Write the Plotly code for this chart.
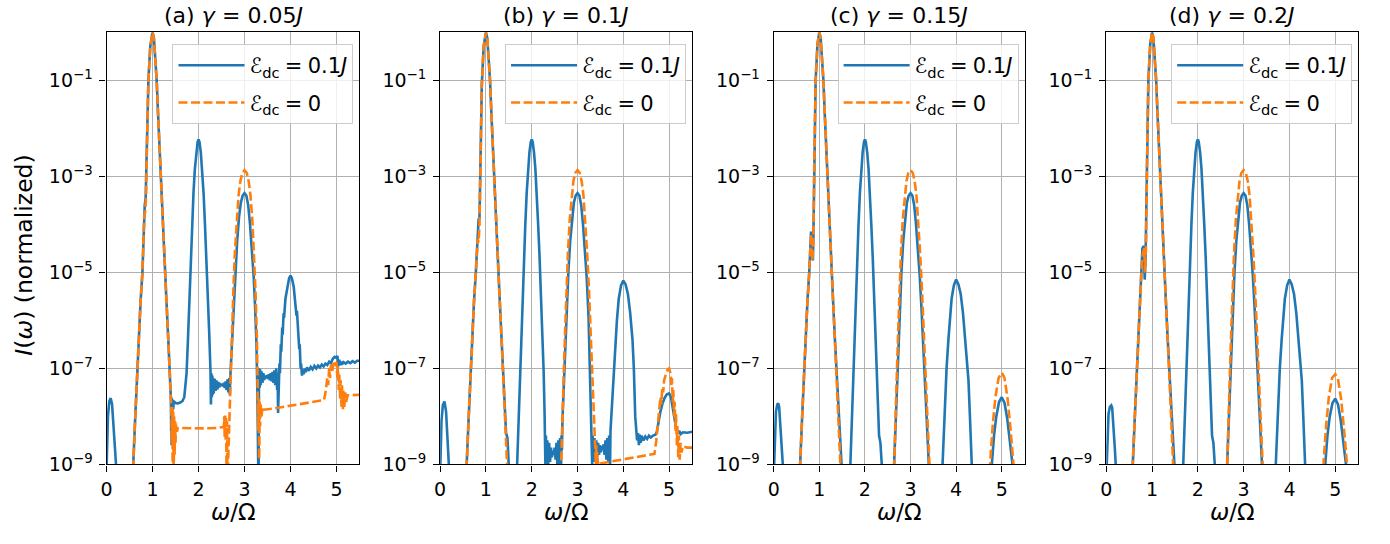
import plotly.graph_objects as go

# ---------------- data (x = omega/Omega, values = log10 of normalized I(omega)) ----------------
A_BLUE_X = [0.00, 0.03, 0.06, 0.09, 0.12, 0.16, 0.20, 0.24, 0.30, 0.50,
            0.56, 0.58, 0.62, 0.66, 0.70, 0.74, 0.78, 0.81, 0.83, 0.85, 0.88, 0.91, 0.95, 1.00,
            1.03, 1.06, 1.09, 1.12, 1.15, 1.18, 1.22, 1.26, 1.30, 1.34, 1.38, 1.40,
            1.405, 1.41, 1.415, 1.42, 1.425, 1.43, 1.435, 1.44, 1.45, 1.46,
            1.50, 1.55, 1.60, 1.65, 1.69, 1.71, 1.74, 1.77, 1.80, 1.83, 1.86, 1.89, 1.92, 1.95, 1.98, 2.00,
            2.02, 2.05, 2.08, 2.11, 2.14, 2.17, 2.20, 2.23, 2.26, 2.27,
            2.28, 2.29, 2.30, 2.31, 2.32, 2.33, 2.35, 2.37, 2.39, 2.41, 2.43, 2.45, 2.47, 2.49, 2.51,
            2.53, 2.55, 2.57, 2.59, 2.61, 2.63, 2.65, 2.67, 2.68, 2.69, 2.70,
            2.73, 2.76, 2.80, 2.84, 2.88, 2.92, 2.96, 3.00, 3.04, 3.08, 3.12, 3.16, 3.20, 3.23, 3.26, 3.28,
            3.29, 3.305, 3.315,
            3.32, 3.33, 3.34, 3.35, 3.37, 3.39, 3.41, 3.43, 3.45, 3.47, 3.49, 3.51, 3.53, 3.55, 3.57,
            3.59, 3.61, 3.63, 3.65, 3.67, 3.69, 3.71, 3.72, 3.73, 3.745,
            3.76, 3.77, 3.79, 3.80, 3.82, 3.83, 3.85, 3.86, 3.89, 3.93, 3.97, 4.00, 4.03, 4.07, 4.10,
            4.13, 4.14, 4.16, 4.17, 4.19, 4.20, 4.22, 4.23, 4.25,
            4.27, 4.29, 4.31, 4.33, 4.36, 4.40, 4.44, 4.48, 4.52, 4.56, 4.60, 4.64, 4.68, 4.72, 4.76,
            4.80, 4.84, 4.88, 4.92, 4.96, 5.00, 5.02, 5.04, 5.06, 5.08, 5.10, 5.12, 5.15, 5.20, 5.25,
            5.30, 5.35, 5.40, 5.45, 5.50]
A_BLUE_LOG10 = [-9.1, -8.0, -7.68, -7.62, -7.75, -8.3, -8.9, -9.5, -11.0, -11.0,
                -9.3, -9.0, -8.1, -7.2, -6.3, -5.6, -5.0, -3.9, -3.6, -3.45, -2.2, -1.0, -0.3, 0.0,
                -0.12, -0.5, -1.0, -1.7, -2.4, -3.1, -4.0, -4.8, -5.55, -6.35, -7.2, -7.65,
                -8.3, -7.6, -8.6, -7.7, -8.4, -7.65, -8.1, -7.7, -7.85, -7.68,
                -7.72, -7.73, -7.71, -7.68, -7.6, -7.4, -7.1, -6.4, -5.55, -4.75, -4.0, -3.35, -2.85, -2.5, -2.28, -2.23,
                -2.28, -2.5, -2.85, -3.35, -4.0, -4.65, -5.4, -6.2, -7.05, -7.75,
                -7.1, -7.6, -7.15, -7.55, -7.2, -7.52, -7.22, -7.47, -7.25, -7.44, -7.28, -7.4, -7.31, -7.36, -7.33,
                -7.37, -7.3, -7.41, -7.27, -7.45, -7.23, -7.5, -7.2, -7.55, -7.2, -7.0,
                -6.5, -5.75, -5.0, -4.35, -3.85, -3.55, -3.4, -3.35, -3.4, -3.6, -4.0, -4.5, -5.1, -5.7, -6.5, -7.5,
                -9.6, -9.6, -7.3,
                -7.0, -7.4, -7.02, -7.35, -7.06, -7.3, -7.1, -7.24, -7.15, -7.2, -7.14, -7.22, -7.12, -7.25, -7.1,
                -7.27, -7.07, -7.3, -7.04, -7.35, -7.0, -7.45, -7.1, -7.93, -7.3,
                -6.9, -7.1, -6.5, -6.65, -6.15, -6.3, -5.85, -5.95, -5.55, -5.3, -5.12, -5.07, -5.12, -5.3, -5.55,
                -5.9, -5.8, -6.25, -6.15, -6.6, -6.5, -7.0, -6.9, -7.15,
                -7.02, -7.12, -7.0, -7.08, -6.98, -7.05, -6.97, -7.02, -6.95, -7.0, -6.94, -6.98, -6.92, -6.96, -6.9,
                -6.93, -6.86, -6.89, -6.8, -6.76, -6.78, -6.74, -6.95, -6.82, -6.93, -6.86, -6.92, -6.87, -6.9, -6.86,
                -6.89, -6.85, -6.88, -6.84, -6.84]

A_ORANGE_X = [0.00, 0.50, 0.56, 0.58, 0.62, 0.66, 0.70, 0.74, 0.78, 0.81, 0.82, 0.84, 0.86, 0.88, 0.91, 0.95, 1.00,
              1.03, 1.06, 1.09, 1.12, 1.15, 1.18, 1.22, 1.26, 1.30, 1.34, 1.38, 1.41,
              1.42, 1.43, 1.44, 1.45, 1.46, 1.47, 1.48, 1.49, 1.50, 1.51, 1.53, 1.55,
              1.80, 2.10, 2.40, 2.55, 2.56, 2.57, 2.58, 2.59, 2.60, 2.61, 2.62, 2.63, 2.645,
              2.67, 2.70, 2.73, 2.76, 2.79, 2.83, 2.87, 2.91, 2.95, 3.00, 3.05, 3.09, 3.13, 3.17, 3.21, 3.24, 3.27, 3.29,
              3.30, 3.31, 3.32, 3.33, 3.34, 3.35, 3.37, 3.39, 3.42,
              3.60, 4.00, 4.40, 4.73, 4.77, 4.80, 4.82, 4.84, 4.86, 4.88, 4.91, 4.94, 4.97, 5.00,
              5.02, 5.03, 5.05, 5.06, 5.08, 5.09, 5.11, 5.12, 5.14, 5.15, 5.17, 5.19, 5.21, 5.24,
              5.30, 5.40, 5.50]
A_ORANGE_LOG10 = [-12.0, -12.0, -9.3, -9.0, -8.1, -7.2, -6.3, -5.6, -5.0, -4.0, -3.8, -3.75, -3.4, -2.3, -1.0, -0.3, 0.0,
                  -0.12, -0.5, -1.0, -1.7, -2.4, -3.1, -4.0, -4.8, -5.55, -6.35, -7.2, -7.9,
                  -8.5, -7.8, -9.5, -7.9, -9.2, -8.0, -8.8, -8.1, -8.55, -8.15, -8.32, -8.24,
                  -8.25, -8.25, -8.24, -8.22, -8.0, -8.45, -7.95, -8.5, -8.0, -9.3, -8.1, -9.6, -8.9,
                  -8.0, -7.1, -6.2, -5.3, -4.6, -3.9, -3.4, -3.1, -2.93, -2.87, -2.93, -3.1, -3.4, -3.9, -4.6, -5.4, -6.4, -7.4,
                  -8.3, -7.6, -8.9, -7.7, -8.2, -7.75, -8.0, -7.8, -7.86,
                  -7.84, -7.78, -7.72, -7.66, -7.45, -7.2, -7.35, -7.0, -7.2, -6.92, -7.05, -6.88, -6.95, -6.87,
                  -7.2, -6.95, -7.45, -7.1, -7.65, -7.25, -7.8, -7.35, -7.85, -7.45, -7.8, -7.5, -7.7, -7.56,
                  -7.56, -7.55, -7.55]

B_BLUE_X = [0.00, 0.03, 0.06, 0.095, 0.13, 0.17, 0.21, 0.25, 0.30, 0.50,
            0.56, 0.58, 0.62, 0.66, 0.70, 0.74, 0.78, 0.82, 0.84, 0.86, 0.88, 0.91, 0.95, 1.00,
            1.03, 1.06, 1.09, 1.12, 1.15, 1.18, 1.22, 1.26, 1.30, 1.34, 1.38, 1.42, 1.44, 1.47, 1.50, 1.53, 1.60,
            1.66, 1.68, 1.71, 1.74, 1.77, 1.80, 1.83, 1.86, 1.89, 1.92, 1.95, 1.98, 2.00,
            2.02, 2.05, 2.08, 2.11, 2.14, 2.17, 2.20, 2.23, 2.26, 2.28,
            2.29, 2.30, 2.31, 2.32, 2.34, 2.36, 2.38, 2.40, 2.42, 2.44, 2.46, 2.48, 2.50, 2.52, 2.54, 2.56,
            2.58, 2.60, 2.62, 2.64, 2.65, 2.66,
            2.67, 2.70, 2.73, 2.76, 2.80, 2.84, 2.88, 2.92, 2.96, 3.00, 3.04, 3.08, 3.12, 3.16, 3.20, 3.24, 3.27, 3.29, 3.30,
            3.31, 3.32, 3.33, 3.35, 3.37, 3.39, 3.41, 3.43, 3.45, 3.47, 3.49, 3.51, 3.53, 3.55, 3.57, 3.59,
            3.61, 3.63, 3.65, 3.67, 3.69, 3.71, 3.72,
            3.76, 3.79, 3.83, 3.86, 3.90, 3.95, 4.00, 4.05, 4.10, 4.15, 4.20, 4.23, 4.26, 4.28,
            4.30, 4.32, 4.34, 4.36, 4.38, 4.40, 4.44, 4.48, 4.52, 4.56, 4.60, 4.65, 4.70, 4.73,
            4.77, 4.81, 4.85, 4.90, 4.95, 5.00, 5.04, 5.08, 5.12, 5.16, 5.18, 5.20, 5.22, 5.25, 5.30, 5.40, 5.50]
B_BLUE_LOG10 = [-9.2, -8.1, -7.76, -7.69, -7.9, -8.5, -9.0, -9.6, -11.0, -11.0,
                -9.3, -9.0, -8.1, -7.2, -6.3, -5.6, -5.0, -4.05, -3.9, -3.85, -2.8, -1.1, -0.3, 0.0,
                -0.12, -0.5, -1.0, -1.7, -2.4, -3.1, -4.0, -4.8, -5.55, -6.35, -7.2, -8.1, -8.35, -8.45, -9.1, -9.7, -11.0,
                -9.6, -9.0, -8.15, -7.3, -6.4, -5.55, -4.75, -4.0, -3.35, -2.85, -2.5, -2.28, -2.23,
                -2.28, -2.5, -2.85, -3.35, -4.0, -4.65, -5.4, -6.2, -7.05, -7.9,
                -8.45, -9.1, -8.4, -9.05, -8.5, -9.0, -8.55, -8.95, -8.65, -8.85, -8.72, -8.8, -8.65, -8.9, -8.55, -9.0,
                -8.5, -9.05, -8.45, -9.1, -8.4, -8.7,
                -8.1, -7.3, -6.5, -5.75, -5.0, -4.35, -3.85, -3.55, -3.4, -3.35, -3.4, -3.6, -4.0, -4.5, -5.1, -5.9, -6.9, -7.8, -8.2,
                -8.35, -9.0, -8.4, -8.95, -8.45, -8.9, -8.5, -8.85, -8.55, -8.8, -8.6, -8.75, -8.62, -8.7, -8.58, -8.8,
                -8.5, -8.9, -8.45, -8.95, -8.4, -9.05, -8.3,
                -7.6, -7.0, -6.4, -6.0, -5.55, -5.27, -5.17, -5.25, -5.45, -5.85, -6.4, -7.0, -8.0, -8.3,
                -8.5, -8.35, -8.6, -8.38, -8.55, -8.4, -8.5, -8.42, -8.47, -8.4, -8.44, -8.4, -8.38, -8.33,
                -8.1, -7.9, -7.75, -7.62, -7.54, -7.52, -7.6, -7.85, -8.1, -8.28, -8.3, -8.36, -8.3, -8.37, -8.33, -8.34, -8.32]

B_ORANGE_X = [0.00, 0.50, 0.56, 0.58, 0.62, 0.66, 0.70, 0.74, 0.78, 0.82, 0.84, 0.86, 0.88, 0.91, 0.95, 1.00,
              1.03, 1.06, 1.09, 1.12, 1.15, 1.18, 1.22, 1.26, 1.30, 1.34, 1.38, 1.42, 1.46, 1.49, 1.60,
              2.55, 2.62, 2.64, 2.67, 2.70, 2.73, 2.76, 2.79, 2.83, 2.87, 2.91, 2.95, 3.00,
              3.05, 3.09, 3.13, 3.17, 3.21, 3.25, 3.29, 3.33, 3.37, 3.40,
              3.41, 3.42, 3.43, 3.45, 3.50, 4.00, 4.40, 4.68,
              4.72, 4.75, 4.78, 4.81, 4.83, 4.85, 4.87, 4.89, 4.93, 4.97, 5.00,
              5.03, 5.05, 5.06, 5.08, 5.09, 5.11, 5.12, 5.14, 5.15, 5.17, 5.18, 5.20, 5.21, 5.23, 5.25, 5.27,
              5.30, 5.40, 5.50]
B_ORANGE_LOG10 = [-12.0, -12.0, -9.3, -9.0, -8.1, -7.2, -6.3, -5.6, -5.0, -4.3, -4.37, -4.0, -2.9, -1.1, -0.3, 0.0,
                  -0.12, -0.5, -1.0, -1.7, -2.4, -3.1, -4.0, -4.8, -5.55, -6.35, -7.2, -8.1, -9.0, -9.7, -12.0,
                  -12.0, -9.5, -9.0, -8.0, -7.1, -6.2, -5.3, -4.6, -3.9, -3.4, -3.1, -2.93, -2.87,
                  -2.93, -3.1, -3.4, -3.9, -4.6, -5.35, -6.3, -7.3, -8.3, -9.0,
                  -8.6, -9.2, -8.75, -9.05, -8.98, -8.9, -8.84, -8.78,
                  -8.5, -8.2, -7.85, -7.6, -7.75, -7.4, -7.5, -7.25, -7.12, -7.02, -7.0,
                  -7.1, -7.35, -7.2, -7.7, -7.45, -8.0, -7.7, -8.3, -7.95, -8.6, -8.2, -8.85, -8.4, -8.9, -8.55, -8.75,
                  -8.62, -8.65, -8.65]

C_BLUE_X = [0.00, 0.02, 0.05, 0.08, 0.10, 0.12, 0.15, 0.18, 0.21, 0.24, 0.30, 0.50,
            0.56, 0.58, 0.62, 0.66, 0.70, 0.74, 0.78, 0.80, 0.82, 0.84, 0.86, 0.87, 0.89, 0.92, 0.96, 1.00,
            1.03, 1.06, 1.09, 1.12, 1.15, 1.18, 1.22, 1.26, 1.30, 1.34, 1.38, 1.42, 1.46, 1.49, 1.60,
            1.66, 1.68, 1.71, 1.74, 1.77, 1.80, 1.83, 1.86, 1.89, 1.92, 1.95, 1.98, 2.00,
            2.02, 2.05, 2.08, 2.11, 2.14, 2.17, 2.20, 2.23, 2.26, 2.29, 2.31, 2.34, 2.37, 2.40, 2.50,
            2.62, 2.64, 2.67, 2.70, 2.73, 2.76, 2.80, 2.84, 2.88, 2.92, 2.96, 3.00,
            3.04, 3.08, 3.12, 3.16, 3.20, 3.24, 3.28, 3.32, 3.36, 3.39, 3.42, 3.50,
            3.68, 3.70, 3.73, 3.76, 3.79, 3.83, 3.86, 3.90, 3.95, 4.00,
            4.05, 4.10, 4.15, 4.20, 4.24, 4.27, 4.30, 4.34, 4.37, 4.50,
            4.76, 4.79, 4.83, 4.88, 4.94, 5.00, 5.06, 5.12, 5.17, 5.22, 5.26, 5.30, 5.50]
C_BLUE_LOG10 = [-9.3, -8.6, -7.9, -7.75, -7.73, -7.8, -8.2, -8.7, -9.05, -9.6, -11.0, -11.0,
                -9.3, -9.0, -8.1, -7.2, -6.3, -5.6, -5.0, -4.5, -4.15, -4.4, -4.75, -4.3, -2.65, -1.0, -0.25, 0.0,
                -0.12, -0.5, -1.0, -1.7, -2.4, -3.1, -4.0, -4.8, -5.55, -6.35, -7.2, -8.1, -9.0, -9.7, -11.0,
                -9.6, -9.0, -8.15, -7.3, -6.4, -5.55, -4.75, -4.0, -3.35, -2.85, -2.5, -2.28, -2.23,
                -2.28, -2.5, -2.85, -3.35, -4.0, -4.65, -5.4, -6.2, -7.05, -7.9, -8.4, -8.55, -9.1, -9.8, -11.0,
                -9.5, -9.0, -8.1, -7.3, -6.5, -5.75, -5.0, -4.35, -3.85, -3.55, -3.4, -3.35,
                -3.4, -3.6, -4.0, -4.5, -5.05, -5.75, -6.55, -7.45, -8.35, -9.0, -9.6, -11.0,
                -9.5, -9.0, -8.3, -7.6, -7.0, -6.4, -6.0, -5.55, -5.27, -5.15,
                -5.25, -5.45, -5.85, -6.4, -6.85, -7.25, -7.95, -9.0, -9.7, -11.0,
                -9.3, -8.9, -8.4, -8.0, -7.7, -7.6, -7.72, -8.05, -8.45, -8.85, -9.2, -9.8, -11.0]

C_ORANGE_X = [0.00, 0.50, 0.56, 0.58, 0.62, 0.66, 0.70, 0.74, 0.78, 0.80, 0.82, 0.85, 0.87, 0.89, 0.92, 0.96, 1.00,
              1.03, 1.06, 1.09, 1.12, 1.15, 1.18, 1.22, 1.26, 1.30, 1.34, 1.38, 1.42, 1.46, 1.49, 1.60,
              2.55, 2.62, 2.64, 2.67, 2.70, 2.73, 2.76, 2.79, 2.83, 2.87, 2.91, 2.95, 3.00,
              3.05, 3.09, 3.13, 3.17, 3.21, 3.25, 3.29, 3.33, 3.37, 3.40, 3.43, 3.55,
              4.60, 4.72, 4.75, 4.80, 4.86, 4.93, 5.00, 5.06, 5.13, 5.19, 5.25, 5.29, 5.33, 5.50]
C_ORANGE_LOG10 = [-12.0, -12.0, -9.3, -9.0, -8.1, -7.2, -6.3, -5.6, -5.0, -4.55, -4.2, -4.75, -4.3, -2.7, -1.0, -0.25, 0.0,
                  -0.12, -0.5, -1.0, -1.7, -2.4, -3.1, -4.0, -4.8, -5.55, -6.35, -7.2, -8.1, -9.0, -9.7, -12.0,
                  -12.0, -9.5, -9.0, -8.0, -7.1, -6.2, -5.3, -4.6, -3.9, -3.4, -3.1, -2.93, -2.87,
                  -2.93, -3.1, -3.4, -3.9, -4.6, -5.35, -6.3, -7.3, -8.3, -9.0, -9.6, -12.0,
                  -12.0, -9.3, -8.9, -8.2, -7.6, -7.2, -7.09, -7.2, -7.65, -8.25, -8.8, -9.2, -9.8, -12.0]

D_BLUE_X = [0.00, 0.02, 0.05, 0.08, 0.11, 0.13, 0.16, 0.19, 0.21, 0.24, 0.30, 0.50,
            0.56, 0.58, 0.62, 0.66, 0.70, 0.74, 0.77, 0.79, 0.82, 0.84, 0.86, 0.88, 0.92, 0.96, 1.00,
            1.03, 1.06, 1.09, 1.12, 1.15, 1.18, 1.22, 1.26, 1.30, 1.34, 1.38, 1.42, 1.46, 1.49, 1.60,
            1.66, 1.68, 1.71, 1.74, 1.77, 1.80, 1.83, 1.86, 1.89, 1.92, 1.95, 1.98, 2.00,
            2.02, 2.05, 2.08, 2.11, 2.14, 2.17, 2.20, 2.23, 2.26, 2.29, 2.31, 2.34, 2.37, 2.40, 2.50,
            2.62, 2.64, 2.67, 2.70, 2.73, 2.76, 2.80, 2.84, 2.88, 2.92, 2.96, 3.00,
            3.04, 3.08, 3.12, 3.16, 3.20, 3.24, 3.28, 3.32, 3.36, 3.39, 3.42, 3.50,
            3.68, 3.70, 3.73, 3.76, 3.79, 3.83, 3.86, 3.90, 3.95, 4.00,
            4.05, 4.10, 4.15, 4.20, 4.24, 4.27, 4.30, 4.34, 4.37, 4.50,
            4.76, 4.79, 4.83, 4.88, 4.94, 5.00, 5.06, 5.12, 5.17, 5.22, 5.26, 5.30, 5.50]
D_BLUE_LOG10 = [-9.3, -8.6, -7.95, -7.8, -7.77, -7.82, -8.2, -8.7, -9.05, -9.6, -11.0, -11.0,
                -9.3, -9.0, -8.1, -7.2, -6.3, -5.6, -4.95, -4.5, -4.45, -5.15, -4.6, -3.0, -1.0, -0.25, 0.0,
                -0.12, -0.5, -1.0, -1.7, -2.4, -3.1, -4.0, -4.8, -5.55, -6.35, -7.2, -8.1, -9.0, -9.7, -11.0,
                -9.6, -9.0, -8.15, -7.3, -6.4, -5.55, -4.75, -4.0, -3.35, -2.85, -2.5, -2.28, -2.23,
                -2.28, -2.5, -2.85, -3.35, -4.0, -4.65, -5.4, -6.2, -7.05, -7.9, -8.4, -8.55, -9.1, -9.8, -11.0,
                -9.5, -9.0, -8.1, -7.3, -6.5, -5.75, -5.0, -4.35, -3.85, -3.55, -3.4, -3.35,
                -3.4, -3.6, -4.0, -4.5, -5.05, -5.75, -6.55, -7.45, -8.35, -9.0, -9.6, -11.0,
                -9.5, -9.0, -8.3, -7.6, -7.0, -6.4, -6.0, -5.55, -5.27, -5.15,
                -5.25, -5.45, -5.85, -6.4, -6.85, -7.25, -7.95, -9.0, -9.7, -11.0,
                -9.3, -8.9, -8.4, -8.0, -7.72, -7.63, -7.75, -8.08, -8.45, -8.85, -9.2, -9.8, -11.0]

D_ORANGE_X = [0.00, 0.50, 0.56, 0.58, 0.62, 0.66, 0.70, 0.74, 0.77, 0.80, 0.83, 0.85, 0.87, 0.89, 0.92, 0.96, 1.00,
              1.03, 1.06, 1.09, 1.12, 1.15, 1.18, 1.22, 1.26, 1.30, 1.34, 1.38, 1.42, 1.46, 1.49, 1.60,
              2.55, 2.62, 2.64, 2.67, 2.70, 2.73, 2.76, 2.79, 2.83, 2.87, 2.91, 2.95, 3.00,
              3.05, 3.09, 3.13, 3.17, 3.21, 3.25, 3.29, 3.33, 3.37, 3.40, 3.43, 3.55,
              4.60, 4.72, 4.75, 4.80, 4.86, 4.93, 5.00, 5.06, 5.13, 5.19, 5.25, 5.29, 5.33, 5.50]
D_ORANGE_LOG10 = [-12.0, -12.0, -9.3, -9.0, -8.1, -7.2, -6.3, -5.6, -4.95, -4.6, -4.5, -5.0, -4.4, -2.8, -1.0, -0.25, 0.0,
                  -0.12, -0.5, -1.0, -1.7, -2.4, -3.1, -4.0, -4.8, -5.55, -6.35, -7.2, -8.1, -9.0, -9.7, -12.0,
                  -12.0, -9.5, -9.0, -8.0, -7.1, -6.2, -5.3, -4.6, -3.9, -3.4, -3.1, -2.93, -2.87,
                  -2.93, -3.1, -3.4, -3.9, -4.6, -5.35, -6.3, -7.3, -8.3, -9.0, -9.6, -12.0,
                  -12.0, -9.3, -8.9, -8.2, -7.6, -7.2, -7.12, -7.22, -7.65, -8.25, -8.8, -9.2, -9.8, -12.0]

SP = "\u2005"   # extra math-style spacing around "=" (legend)
SPT = "\u2004"  # slightly wider spacing (titles)
TITLES = [f"(a) <i>γ</i>{SPT}={SPT}0.05<i>J</i>", f"(b) <i>γ</i>{SPT}={SPT}0.1<i>J</i>",
          f"(c) <i>γ</i>{SPT}={SPT}0.15<i>J</i>", f"(d) <i>γ</i>{SPT}={SPT}0.2<i>J</i>"]
NAME_BLUE = f"ℰ<sub>dc</sub>{SP}={SP}0.1<i>J</i>"
NAME_ORANGE = f"ℰ<sub>dc</sub>{SP}={SP}0"
X_TICKS = [0, 1, 2, 3, 4, 5]
Y_TICKS = [1e-9, 1e-7, 1e-5, 1e-3, 1e-1]
Y_TICK_TEXT = ["10<sup>−9</sup>", "10<sup>−7</sup>", "10<sup>−5</sup>", "10<sup>−3</sup>", "10<sup>−1</sup>"]

# ---------------- figure ----------------
W, H = 1390, 544
BLUE = "#1f77b4"
ORANGE = "#ff7f0e"
FONT = "DejaVu Sans"
X_PIX = [(101, 355), (436, 689), (771, 1023), (1105, 1358)]
Y_PIX = (33, 474)

series = [(A_BLUE_X, A_BLUE_LOG10, A_ORANGE_X, A_ORANGE_LOG10),
          (B_BLUE_X, B_BLUE_LOG10, B_ORANGE_X, B_ORANGE_LOG10),
          (C_BLUE_X, C_BLUE_LOG10, C_ORANGE_X, C_ORANGE_LOG10),
          (D_BLUE_X, D_BLUE_LOG10, D_ORANGE_X, D_ORANGE_LOG10)]

fig = go.Figure()
layout = dict(width=W, height=H, margin=dict(l=0, r=0, t=0, b=0),
              paper_bgcolor="white", plot_bgcolor="white",
              font=dict(family=FONT, color="black"), annotations=[])

for i, (bx, by, ox, oy) in enumerate(series):
    sfx = "" if i == 0 else str(i + 1)
    leg = "legend" if i == 0 else f"legend{i + 1}"
    fig.add_trace(go.Scatter(x=bx, y=[10 ** v for v in by], mode="lines",
                             line=dict(color=BLUE, width=2.6), name=NAME_BLUE,
                             legendgroup=f"b{i}",
                             xaxis="x" + sfx, yaxis="y" + sfx, legend=leg))
    fig.add_trace(go.Scatter(x=ox, y=[10 ** v for v in oy], mode="lines",
                             line=dict(color=ORANGE, width=2.6, dash="9px,3.5px"), name=NAME_ORANGE,
                             legendgroup=f"o{i}",
                             xaxis="x" + sfx, yaxis="y" + sfx, legend=leg))
    x0, x1 = X_PIX[i]
    axcommon = dict(showgrid=True, gridcolor="#b0b0b0", gridwidth=1,
                    showline=True, linecolor="black", linewidth=1.2, mirror=True,
                    ticks="outside", ticklen=6, tickwidth=1.2, tickcolor="black",
                    tickfont=dict(family=FONT, size=19, color="black"), zeroline=False)
    layout["xaxis" + sfx] = dict(domain=[x0 / W, x1 / W], anchor="y" + sfx, range=[0, 5.5],
                                 tickmode="array", tickvals=X_TICKS, ticktext=[str(t) for t in X_TICKS],
                                 ticklabelstandoff=2, **axcommon)
    layout["yaxis" + sfx] = dict(domain=[1 - Y_PIX[1] / H, 1 - Y_PIX[0] / H], anchor="x" + sfx,
                                 type="log", range=[-9, 0], tickmode="array",
                                 tickvals=Y_TICKS, ticktext=Y_TICK_TEXT, ticklabelstandoff=3, **axcommon)
    layout[leg] = dict(x=(x1 - 6) / W, y=1 - 45 / H, xanchor="right", yanchor="top",
                       xref="paper", yref="paper", bgcolor="rgba(255,255,255,0.8)",
                       bordercolor="#cccccc", borderwidth=1, itemwidth=66, tracegroupgap=7,
                       font=dict(family=FONT, size=21, color="black"))
    cx = (x0 + x1) / 2 / W
    layout["annotations"].append(dict(text=TITLES[i], x=cx, y=1 - 16 / H, xref="paper", yref="paper",
                                      showarrow=False, xanchor="center", yanchor="middle",
                                      font=dict(family=FONT, size=22, color="black")))
    layout["annotations"].append(dict(text="<i>ω</i>/Ω", x=cx, y=1 - 523 / H, xref="paper", yref="paper",
                                      showarrow=False, xanchor="center", yanchor="middle",
                                      font=dict(family=FONT, size=23, color="black")))

layout["annotations"].append(dict(text="<i>I</i>(<i>ω</i>) (normalized)", x=18 / W, y=1 - 260 / H,
                                  xref="paper", yref="paper", showarrow=False, textangle=-90,
                                  xanchor="center", yanchor="middle",
                                  font=dict(family=FONT, size=23.5, color="black")))
layout["showlegend"] = True
fig.update_layout(**layout)

fig.write_html("out.html", config={"displayModeBar": False},
               post_script="document.body.style.margin='0';")
